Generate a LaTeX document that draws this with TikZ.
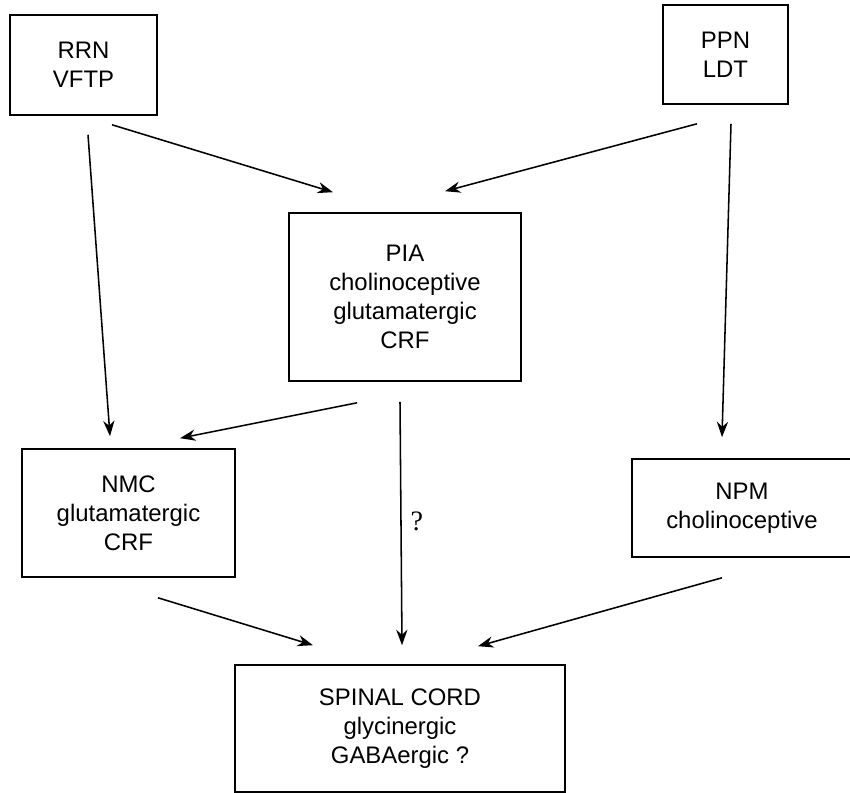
\documentclass[tikz,border=0pt]{standalone}
\usepackage{fontspec}
\setmainfont{Liberation Sans}
\newfontfamily\qfont{Liberation Serif}
\usepackage{tikz}
\usetikzlibrary{calc,arrows.meta}

\begin{document}
\begin{tikzpicture}[
    x=0.025cm, y=-0.025cm,
    every node/.style={font=\fontsize{17}{20.5}\selectfont},
    box/.style={
        rectangle,
        draw=black,
        line width=1.1pt,
        inner sep=0pt,
        align=center
    },
    arrow/.style={-{Stealth[length=11pt,width=8pt]}, line width=1.1pt}
]
\useasboundingbox (0,0) rectangle (850,793);

% Nodes with fixed coordinates
\node[box, minimum width=3.675cm, minimum height=2.5cm]   (rrn)    at (83.5, 65)   {RRN\\VFTP};
\node[box, minimum width=3.125cm, minimum height=2.475cm] (ppn)    at (725.5, 54.5) {PPN\\LDT};
\node[box, minimum width=5.8cm, minimum height=4.2cm]     (pia)    at (405, 297)   {PIA\\cholinoceptive\\glutamatergic\\CRF};
\node[box, minimum width=5.325cm, minimum height=3.2cm]   (nmc)    at (128.5, 513) {NMC\\glutamatergic\\CRF};
\node[box, minimum width=5.5cm, minimum height=2.45cm]    (npm)    at (742, 508)   {NPM\\cholinoceptive};
\node[box, minimum width=8.25cm, minimum height=3.175cm]  (spinal) at (400, 728.5) {SPINAL CORD\\glycinergic\\GABAergic ?};

% Arrows
\draw[arrow] ($(rrn.south)+(28.5,9)$) -- ($(pia.north)+(-72,-20)$);
\draw[arrow] ($(ppn.south)+(-28.5,19)$) -- ($(pia.north)+(40,-21)$);

\draw[arrow] ($(rrn.south)+(4.5,19)$) -- ($(nmc.north)+(-18.5,-12)$);
\draw[arrow] ($(ppn.south)+(5.5,19)$) -- ($(npm.north)+(-20,-21)$);

\draw[arrow] ($(pia.south)+(-48,21)$) -- ($(nmc.north)+(51.5,-10)$);
\draw[arrow] ($(pia.south)+(-5,20)$) -- node[right=3pt, pos=0.49, font=\qfont\fontsize{20}{22}\selectfont] (qmark) {?} ($(spinal.north)+(2,-19)$);

\draw[arrow] ($(nmc.south)+(29.5,20)$) -- ($(spinal.north)+(-87,-19)$);
\draw[arrow] ($(npm.south)+(-20,20)$) -- ($(spinal.north)+(78,-18)$);

\end{tikzpicture}
\end{document}
